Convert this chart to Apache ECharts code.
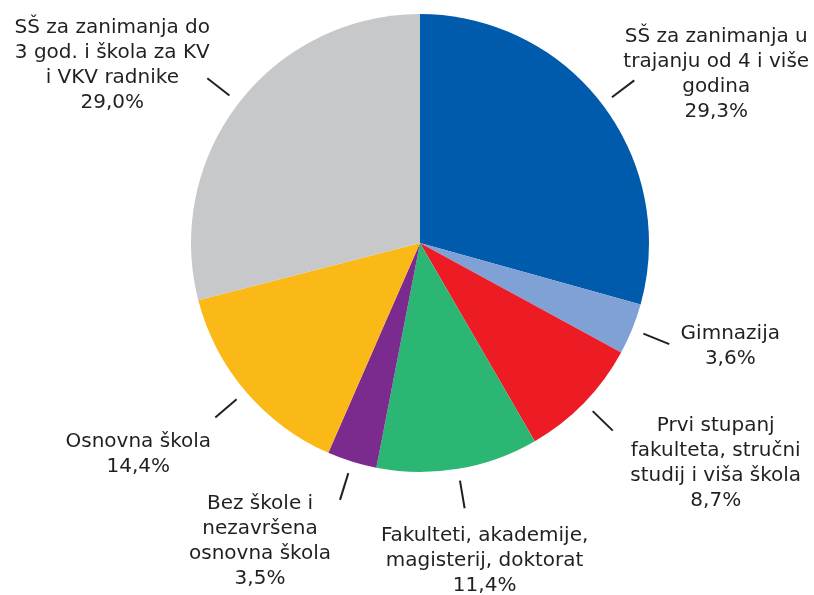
<!DOCTYPE html>
<html>
<head>
<meta charset="utf-8">
<script src="https://cdn.jsdelivr.net/npm/echarts@6/dist/echarts.min.js"></script>
<style>
  html, body { margin: 0; padding: 0; background: #fff; }
  #chart { width: 814px; height: 595px; }
</style>
</head>
<body>
<div id="chart"></div>
<script>
// categories (line breaks as in the original labels)
const categories = [
  'SŠ za zanimanja u\ntrajanju od 4 i više\ngodina',
  'Gimnazija',
  'Prvi stupanj\nfakulteta, stručni\nstudij i viša škola',
  'Fakulteti, akademije,\nmagisterij, doktorat',
  'Bez škole i\nnezavršena\nosnovna škola',
  'Osnovna škola',
  'SŠ za zanimanja do\n3 god. i škola za KV\ni VKV radnike'
]
const shares = [29.3, 3.6, 8.7, 11.4, 3.5, 14.4, 29.0]
const colors = ['#005bac', '#7fa1d5', '#ed1c24', '#2bb673', '#7b2b8e', '#fbb918', '#c7c8ca']
// where each label block sits relative to the end of its leader line
const labelShift = [[82, -6], [61, 2], [103, 33], [20, 53], [-80, 41], [-77, 37], [-95, -13]]

const chart = echarts.init(document.getElementById('chart'))

const pieData = categories.map((c, i) => ({
  name: c, value: shares[i], itemStyle: { color: colors[i] }
}))

chart.setOption({
  animation: false,
  series: [
    {
      type: 'pie',
      center: [420, 243],
      radius: [0, 229],
      startAngle: 90,
      silent: true,
      label: { show: false },
      labelLine: { show: false },
      itemStyle: { borderWidth: 0 },
      data: pieData
    },
    {
      // invisible copy, only carries labels and leader lines (leaves a gap to the pie)
      type: 'pie',
      center: [420, 243],
      radius: [0, 241],
      startAngle: 90,
      silent: true,
      avoidLabelOverlap: false,
      itemStyle: { color: 'rgba(0,0,0,0)', borderWidth: 0 },
      label: {
        show: true,
        position: 'outside',
        color: '#231f20',
        fontFamily: 'DejaVu Sans',
        fontSize: 20,
        lineHeight: 25,
        align: 'center',
        formatter: p => p.name + '\n' + p.value.toFixed(1).replace('.', ',') + '%'
      },
      labelLine: {
        show: true,
        length: 28,
        length2: 0,
        lineStyle: { color: '#231f20', width: 2 }
      },
      labelLayout: p => {
        const pts = p.labelLinePoints
        const end = pts[pts.length - 1]
        const s = labelShift[p.dataIndex]
        return {
          x: end[0] + s[0],
          y: end[1] + s[1],
          align: 'center',
          verticalAlign: 'middle',
          labelLinePoints: pts
        }
      },
      data: categories.map((c, i) => ({ name: c, value: shares[i] }))
    }
  ]
})
</script>
</body>
</html>
